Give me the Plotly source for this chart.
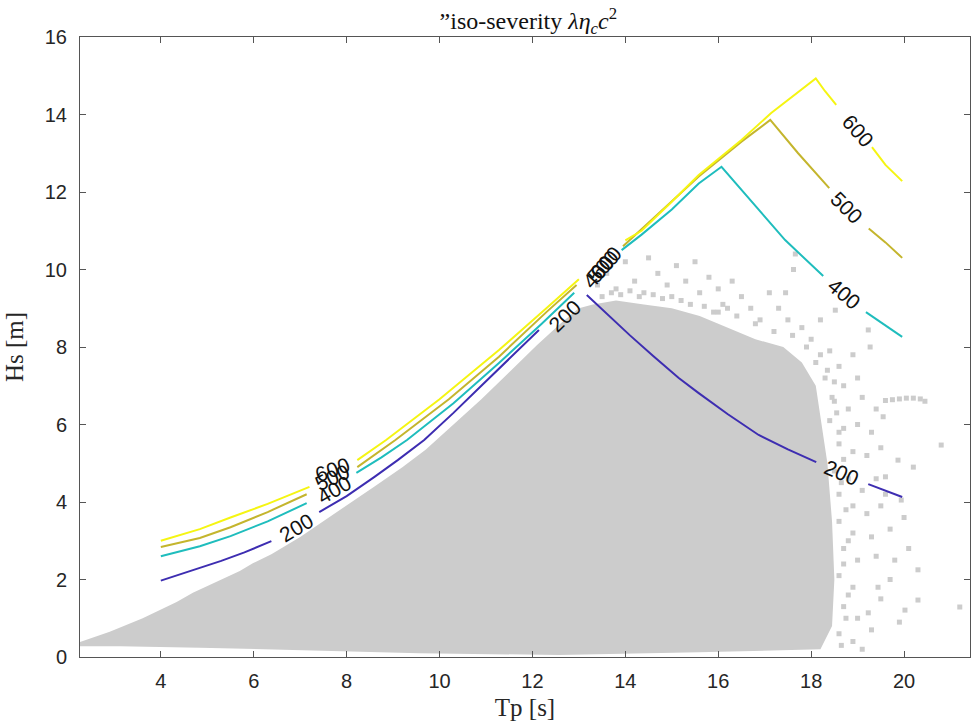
import plotly.graph_objects as go

# ---------------- data (Tp [s], Hs [m]) ----------------
# dense cloud of sea states (outline of the filled region)
cloud_tp = [2.26, 2.90, 3.61, 3.98, 4.34, 4.69, 5.27, 5.70, 5.98, 6.38, 7.0, 7.5, 8.0, 8.6,
            9.2, 9.7, 10.3, 10.9, 11.5, 12.1, 12.6, 13.0, 13.3, 13.8, 14.4, 15.0, 15.6,
            16.2, 16.8, 17.4, 17.8, 18.1, 18.2, 18.35, 18.45, 18.5, 18.45, 18.2,
            15.58, 12.57, 9.56, 6.99, 4.84, 3.12, 2.26]
cloud_hs = [0.39, 0.65, 1.0, 1.21, 1.42, 1.66, 1.98, 2.22, 2.42, 2.65, 3.1, 3.5, 3.9, 4.4,
            4.9, 5.35, 6.0, 6.65, 7.35, 8.05, 8.6, 9.0, 9.1, 9.2, 9.1, 9.0, 8.8,
            8.5, 8.2, 8.0, 7.6, 7.0, 6.2, 5.0, 3.5, 2.0, 0.8, 0.2,
            0.12, 0.05, 0.10, 0.18, 0.24, 0.28, 0.28]

# isolated sea states outside the dense cloud
pts_tp = [13.4, 13.6, 13.8, 14.0, 14.2, 14.4, 14.5, 14.7, 14.9, 15.1, 15.3, 15.5, 15.6,
          15.8, 16.0, 16.1, 16.3, 16.5, 16.7, 16.9, 17.1, 17.3, 17.5, 17.66, 17.62, 17.45,
          16.2, 15.9,
          17.8, 18.0, 18.2, 18.52, 19.23, 19.27, 18.4, 18.1, 18.6, 18.9, 18.3, 18.7, 19.0,
          18.5, 18.8, 19.1, 18.4, 18.7, 19.0, 19.3, 18.6, 18.9, 19.2, 19.5,
          19.6, 19.75, 19.9, 20.05, 20.2, 20.35, 20.45, 19.4, 19.55,
          18.5, 18.8, 19.1, 19.4, 19.6, 19.87, 19.94, 18.6, 18.9, 19.2, 19.5, 18.6, 18.9,
          19.3, 19.7, 20.0, 18.7, 19.0, 19.4, 19.8, 20.3, 18.6, 18.9, 19.44, 19.7, 20.3,
          18.7, 19.0, 19.23, 20.02, 18.6, 18.9, 19.3, 20.8, 21.2,
          13.5, 13.7, 13.9, 14.1, 14.3, 14.6, 14.8, 15.0, 15.2, 15.4, 15.7, 16.0, 16.4,
          16.8, 17.2, 17.6, 17.9, 18.2, 18.35, 18.5, 18.45, 18.55, 18.6, 18.7, 18.65,
          18.75, 18.8, 18.7, 18.8, 18.75, 18.65, 19.1, 19.5, 19.9, 20.1, 19.6, 20.2]
pts_hs = [9.6, 9.9, 9.5, 10.2, 9.7, 9.4, 10.3, 9.9, 9.6, 10.1, 9.7, 10.2, 9.4,
          9.8, 9.5, 9.1, 9.7, 9.3, 9.0, 8.7, 9.4, 9.0, 8.7, 10.4, 10.0, 9.4,
          9.0, 8.9,
          8.5, 8.2, 8.7, 8.95, 8.44, 8.0, 7.9, 7.6, 7.5, 7.8, 7.2, 7.0, 7.2,
          6.6, 6.4, 6.7, 6.1, 5.9, 6.0, 5.8, 5.5, 5.3, 5.2, 5.4,
          6.62, 6.64, 6.66, 6.68, 6.68, 6.66, 6.6, 6.4, 6.2,
          4.8, 4.6, 4.3, 4.6, 4.65, 5.08, 4.05, 4.2, 3.9, 3.7, 3.9, 3.5, 3.2,
          3.1, 3.3, 3.6, 2.8, 2.5, 2.6, 2.5, 2.25, 2.1, 1.8, 1.8, 2.0, 1.47,
          1.3, 1.0, 1.14, 1.21, 0.6, 0.4, 0.7, 5.47, 1.29,
          9.3, 9.4, 9.35, 9.45, 9.3, 9.35, 9.25, 9.3, 9.2, 9.1, 9.05, 8.9, 8.8,
          8.6, 8.4, 8.3, 8.0, 7.8, 7.4, 7.1, 6.7, 6.3, 5.8, 5.1, 4.5,
          3.8, 3.0, 2.4, 1.6, 1.0, 0.3, 0.2, 1.5, 0.9, 2.8, 4.2, 4.9]

# iso-severity contour lines (None = gap where a label sits)
levels = [200, 400, 500, 600]
level_colors = ["#3d2db1", "#1fbdbd", "#c4b52d", "#f5f512"]

c200_tp = [4.0, 4.42, 4.84, 5.3, 5.8, 6.38, None,
           7.41, 8.0, 8.6, 9.1, 9.67, 10.3, 10.9, 11.5, 12.14, None,
           13.17, 13.6, 14.1, 14.6, 15.15, 15.58, 16.2, 16.87, 17.5, 18.11, None,
           19.23, 19.6, 19.96]
c200_hs = [1.97, 2.13, 2.30, 2.48, 2.70, 2.99, None,
           3.74, 4.15, 4.65, 5.08, 5.6, 6.3, 7.0, 7.7, 8.44, None,
           9.34, 8.85, 8.3, 7.77, 7.2, 6.81, 6.27, 5.73, 5.36, 5.03, None,
           4.46, 4.29, 4.13]

c400_tp = [4.0, 4.84, 5.5, 6.3, 7.14, None,
           8.21, 8.75, 9.30, 10.3, 11.28, 12.2, 12.9, None,
           13.92, 14.35, 15.0, 15.58, 16.07, 16.4, 16.87, 17.44, 18.26, None,
           19.18, 19.6, 19.96]
c400_hs = [2.6, 2.86, 3.12, 3.5, 3.97, None,
           4.75, 5.15, 5.6, 6.55, 7.59, 8.6, 9.4, None,
           10.5, 10.9, 11.55, 12.22, 12.65, 12.2, 11.54, 10.76, 9.83, None,
           8.9, 8.55, 8.26]

c500_tp = [4.0, 4.84, 5.5, 6.3, 7.14, None,
           8.23, 8.75, 9.05, 10.2, 11.28, 12.3, 12.95, None,
           13.95, 15.0, 15.58, 16.5, 17.12, 17.72, 18.39, None,
           19.24, 19.6, 19.96]
c500_hs = [2.84, 3.07, 3.35, 3.74, 4.2, None,
           4.9, 5.35, 5.6, 6.65, 7.75, 8.9, 9.6, None,
           10.6, 11.75, 12.4, 13.3, 13.86, 13.0, 12.1, None,
           11.06, 10.7, 10.3]

c600_tp = [4.0, 4.84, 5.5, 6.3, 7.2, None,
           8.23, 8.85, 10.0, 11.28, 12.3, 13.0, None,
           14.0, 14.35, 15.0, 15.58, 16.5, 17.14, 18.1, 18.3, 18.54, None,
           19.31, 19.6, 19.96]
c600_hs = [3.0, 3.30, 3.6, 3.95, 4.39, None,
           5.08, 5.6, 6.65, 7.92, 9.0, 9.75, None,
           10.75, 11.0, 11.75, 12.44, 13.34, 14.04, 14.93, 14.6, 14.25, None,
           13.16, 12.7, 12.28]

contours_tp = [c200_tp, c400_tp, c500_tp, c600_tp]
contours_hs = [c200_hs, c400_hs, c500_hs, c600_hs]

# contour labels: text, Tp, Hs, angle
label_text = ["200", "200", "200", "400", "500", "600", "400", "500", "600", "400", "500", "600"]
label_tp = [6.92, 12.68, 18.65, 7.74, 7.69, 7.69, 13.43, 13.51, 13.58, 18.71, 18.76, 19.01]
label_hs = [3.33, 8.8, 4.75, 4.31, 4.62, 4.83, 9.94, 10.09, 10.19, 9.39, 11.59, 13.6]
label_angle = [-31, -44, 23, -30, -25, -20, -48, -48, -48, 40, 45, 49]

x_ticks = [4, 6, 8, 10, 12, 14, 16, 18, 20]
y_ticks = [0, 2, 4, 6, 8, 10, 12, 14, 16]

# ---------------- figure ----------------
fig = go.Figure()
fig.add_trace(go.Scatter(x=cloud_tp, y=cloud_hs, mode="lines", fill="toself",
                         fillcolor="#cccccc", line=dict(width=0, color="#cccccc"),
                         hoverinfo="skip", showlegend=False))
fig.add_trace(go.Scatter(x=pts_tp, y=pts_hs, mode="markers",
                         marker=dict(symbol="square", size=5, color="#cccccc"),
                         showlegend=False))
for lv, col, xs, ys in zip(levels, level_colors, contours_tp, contours_hs):
    fig.add_trace(go.Scatter(x=xs, y=ys, mode="lines", name=str(lv),
                             line=dict(color=col, width=2), connectgaps=False,
                             showlegend=False))

for t, x, y, a in zip(label_text, label_tp, label_hs, label_angle):
    fig.add_annotation(x=x, y=y, text=t, showarrow=False, textangle=a,
                       font=dict(family="Liberation Sans, Arial", size=21, color="#111111"))

axis_common = dict(showline=True, linecolor="#555555", linewidth=1, mirror="ticks",
                   ticks="inside", ticklen=6, tickcolor="#555555", showgrid=False,
                   zeroline=False,
                   tickfont=dict(family="Liberation Sans, Arial", size=20, color="#262626"))
fig.update_xaxes(range=[2.26, 21.42], tickvals=x_ticks, ticklabelstandoff=6,
                 title=dict(text="Tp [s]", font=dict(family="Liberation Serif, serif", size=25, color="#262626"), standoff=7),
                 **axis_common)
fig.update_yaxes(range=[0, 16], tickvals=y_ticks, ticklabelstandoff=8,
                 title=dict(text="Hs [m]", font=dict(family="Liberation Serif, serif", size=25, color="#262626"), standoff=14),
                 **axis_common)
fig.update_layout(
    width=973, height=725,
    margin=dict(l=80, r=3, t=37, b=68),
    plot_bgcolor="white", paper_bgcolor="white",
    title=dict(text="”iso-severity <i>λη<sub>c</sub>c</i><sup>2</sup>", x=0.543, xanchor="center",
               y=0.972, yanchor="middle",
               font=dict(family="Liberation Serif, serif", size=24, color="#111111")),
)
fig.write_html("out.html")
